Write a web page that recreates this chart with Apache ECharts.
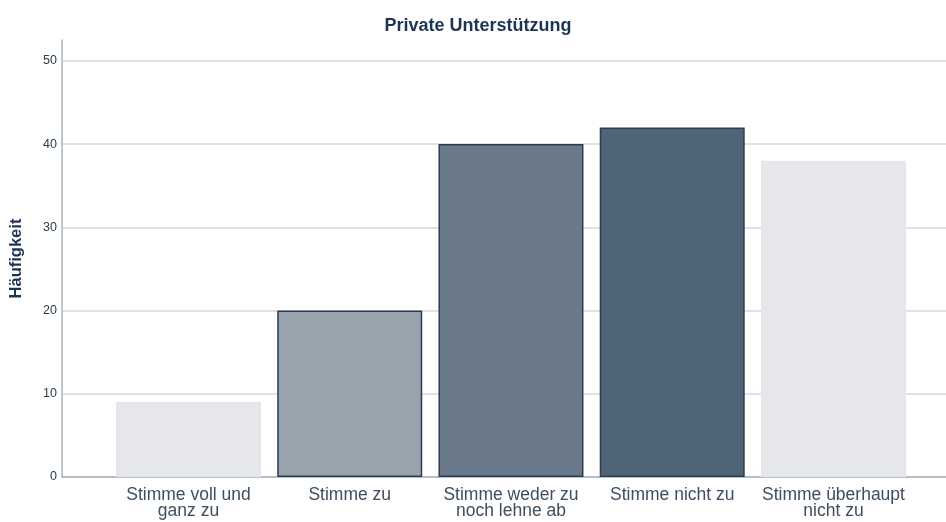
<!DOCTYPE html>
<html>
<head>
<meta charset="utf-8">
<script src="https://cdn.jsdelivr.net/npm/echarts@6/dist/echarts.min.js"></script>
<style>html,body{margin:0;padding:0;background:#fff;}#c{width:946px;height:522px;}</style>
</head>
<body>
<div id="c"></div>
<script>
const categories = ['Stimme voll und\nganz zu', 'Stimme zu', 'Stimme weder zu\nnoch lehne ab', 'Stimme nicht zu', 'Stimme überhaupt\nnicht zu'];
const values = [9, 20, 40, 42, 38];
const barColors = ['#e6e7eb', '#98a3ae', '#6b7a8a', '#506478', '#e6e7eb'];
const borderColors = ['#e3e5e8', '#2a3d52', '#2a3d52', '#2a3d52', '#e3e5e8'];
const yTicks = [0, 10, 20, 30, 40, 50];

const positions = categories.map((c, i) => i + 1);
const chart = echarts.init(document.getElementById('c'));
const ff = '"Liberation Sans", Arial, sans-serif';
chart.setOption({
  animation: false,
  title: {
    text: 'Private Unterstützung',
    left: 473,
    textAlign: 'center',
    top: 12,
    textStyle: {fontFamily: ff, fontSize: 18, fontWeight: 'bold', color: '#1d3553'}
  },
  grid: {left: 62, right: 0, top: 40, bottom: 45},
  xAxis: {
    type: 'value',
    min: 0.2155,
    max: 5.698,
    axisLine: {show: true, lineStyle: {color: '#a9b3be', width: 1.5}},
    axisTick: {show: false},
    splitLine: {show: false},
    axisLabel: {
      customValues: positions,
      formatter: v => categories[Math.round(v) - 1] || '',
      fontFamily: ff, fontSize: 17.5, color: '#3d4e60', lineHeight: 16, margin: 10
    }
  },
  yAxis: {
    type: 'value',
    min: 0,
    max: 52.5,
    interval: 10,
    name: 'Häufigkeit',
    nameLocation: 'middle',
    nameGap: 37,
    nameTextStyle: {fontFamily: ff, fontSize: 16.5, fontWeight: 'bold', color: '#1d3553'},
    axisLine: {show: true, lineStyle: {color: '#a9b3be', width: 1.5}},
    axisTick: {show: false},
    axisLabel: {
      customValues: yTicks,
      fontFamily: ff, fontSize: 12.5, color: '#2b3b4e', margin: 5
    },
    splitLine: {show: true, lineStyle: {color: ['#d3d8de', '#d3d8de', '#d3d8de', '#d3d8de', '#d3d8de', '#d3d8de', 'rgba(0,0,0,0)'], width: 1.5}}
  },
  series: [{
    type: 'bar',
    barWidth: 145,
    data: values.map((v, i) => ({
      value: [positions[i], v],
      itemStyle: {color: barColors[i], borderColor: borderColors[i], borderWidth: 1.5}
    }))
  }]
});
</script>
</body>
</html>
